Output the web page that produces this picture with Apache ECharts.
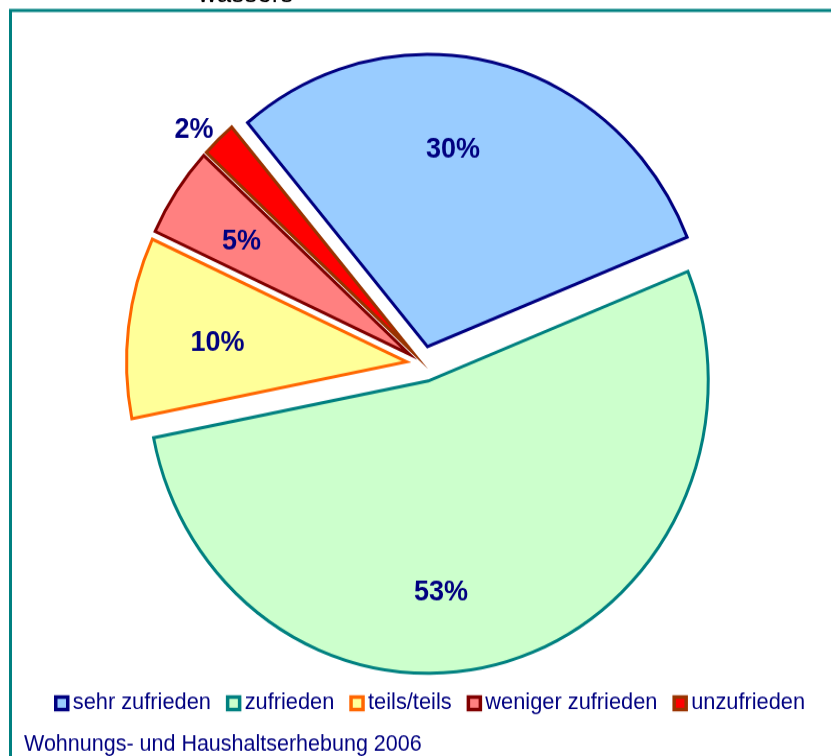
<!DOCTYPE html>
<html>
<head>
<meta charset="utf-8">
<script src="https://cdn.jsdelivr.net/npm/echarts@6/dist/echarts.min.js"></script>
<style>
  html, body { margin: 0; padding: 0; background: #ffffff; overflow: hidden; }
  #wrap { width: 831px; height: 756px; overflow: hidden; }
  /* the chart is laid out slightly flatter and stretched to the full page height */
  #chart { width: 831px; height: 724px; transform: scaleY(1.0442); transform-origin: 0 0; }
</style>
</head>
<body>
<div id="wrap"><div id="chart"></div></div>
<script>
// Satisfaction shares (percent)
const categories = ['sehr zufrieden', 'zufrieden', 'teils/teils', 'weniger zufrieden', 'unzufrieden'];
const shares = [30, 53, 10, 5, 2];
const titleText = 'wassers';
const sourceText = 'Wohnungs- und Haushaltserhebung 2006';

// Styling
const fontFamily = "'Liberation Sans', Arial, sans-serif";
const navy = '#000080';
const fills = ['#99CCFF', '#CCFFCC', '#FFFF99', '#FF8080', '#FF0000'];
const strokes = ['#000080', '#008080', '#FF6600', '#800000', '#993300'];
// pixel nudges of each percentage label away from its default inside spot
const labelShift = [[-9, -50], [-28, 66], [-47, -1], [-49, -28], [-119, -108]];

const pieData = categories.map((name, i) => ({
  name: name,
  value: shares[i],
  selected: true,
  itemStyle: { color: fills[i], borderColor: strokes[i] }
}));

const legendData = categories.map((name, i) => ({
  name: name,
  icon: 'rect',
  itemStyle: { color: fills[i], borderColor: strokes[i], borderWidth: 3.5 }
}));

const chart = echarts.init(document.getElementById('chart'), null, { renderer: 'canvas' });

chart.setOption({
  animation: false,
  backgroundColor: '#ffffff',
  title: [
    {
      text: titleText,
      left: 198,
      top: -18,
      padding: 0,
      textStyle: { fontFamily: fontFamily, fontSize: 26, lineHeight: 26, fontWeight: 'normal', color: '#000000' }
    },
    {
      text: sourceText,
      left: 24,
      top: 701,
      padding: 0,
      textStyle: { fontFamily: fontFamily, fontSize: 21.5, lineHeight: 24, fontWeight: 'normal', color: navy }
    }
  ],
  graphic: [
    {
      type: 'rect',
      silent: true,
      z: -10,
      shape: { x: 10.5, y: 10, width: 1000, height: 1000 },
      style: { fill: 'none', stroke: '#008080', lineWidth: 3 }
    }
  ],
  legend: {
    data: legendData,
    orient: 'horizontal',
    left: 54,
    top: 661.4,
    padding: 0,
    itemGap: 15,
    itemWidth: 12,
    itemHeight: 12,
    selectedMode: false,
    itemStyle: { borderWidth: 3.5 },
    textStyle: { fontFamily: fontFamily, fontSize: 21.8, lineHeight: 24, color: navy }
  },
  series: [
    {
      type: 'pie',
      center: [423.4, 348.5],
      radius: [0, 280],
      startAngle: 130,
      clockwise: true,
      selectedMode: 'multiple',
      selectedOffset: 17,
      avoidLabelOverlap: false,
      emphasis: { disabled: true },
      itemStyle: { borderWidth: 3, borderJoin: 'miter', borderMiterLimit: 20 },
      label: {
        show: true,
        position: 'inside',
        formatter: '{c}%',
        color: navy,
        fontFamily: fontFamily,
        fontWeight: 'bold',
        fontSize: 27,
        textBorderWidth: 0
      },
      labelLine: { show: false },
      labelLayout: function (params) {
        const s = labelShift[params.dataIndex];
        return { dx: s[0], dy: s[1] };
      },
      data: pieData
    }
  ]
});
</script>
</body>
</html>
